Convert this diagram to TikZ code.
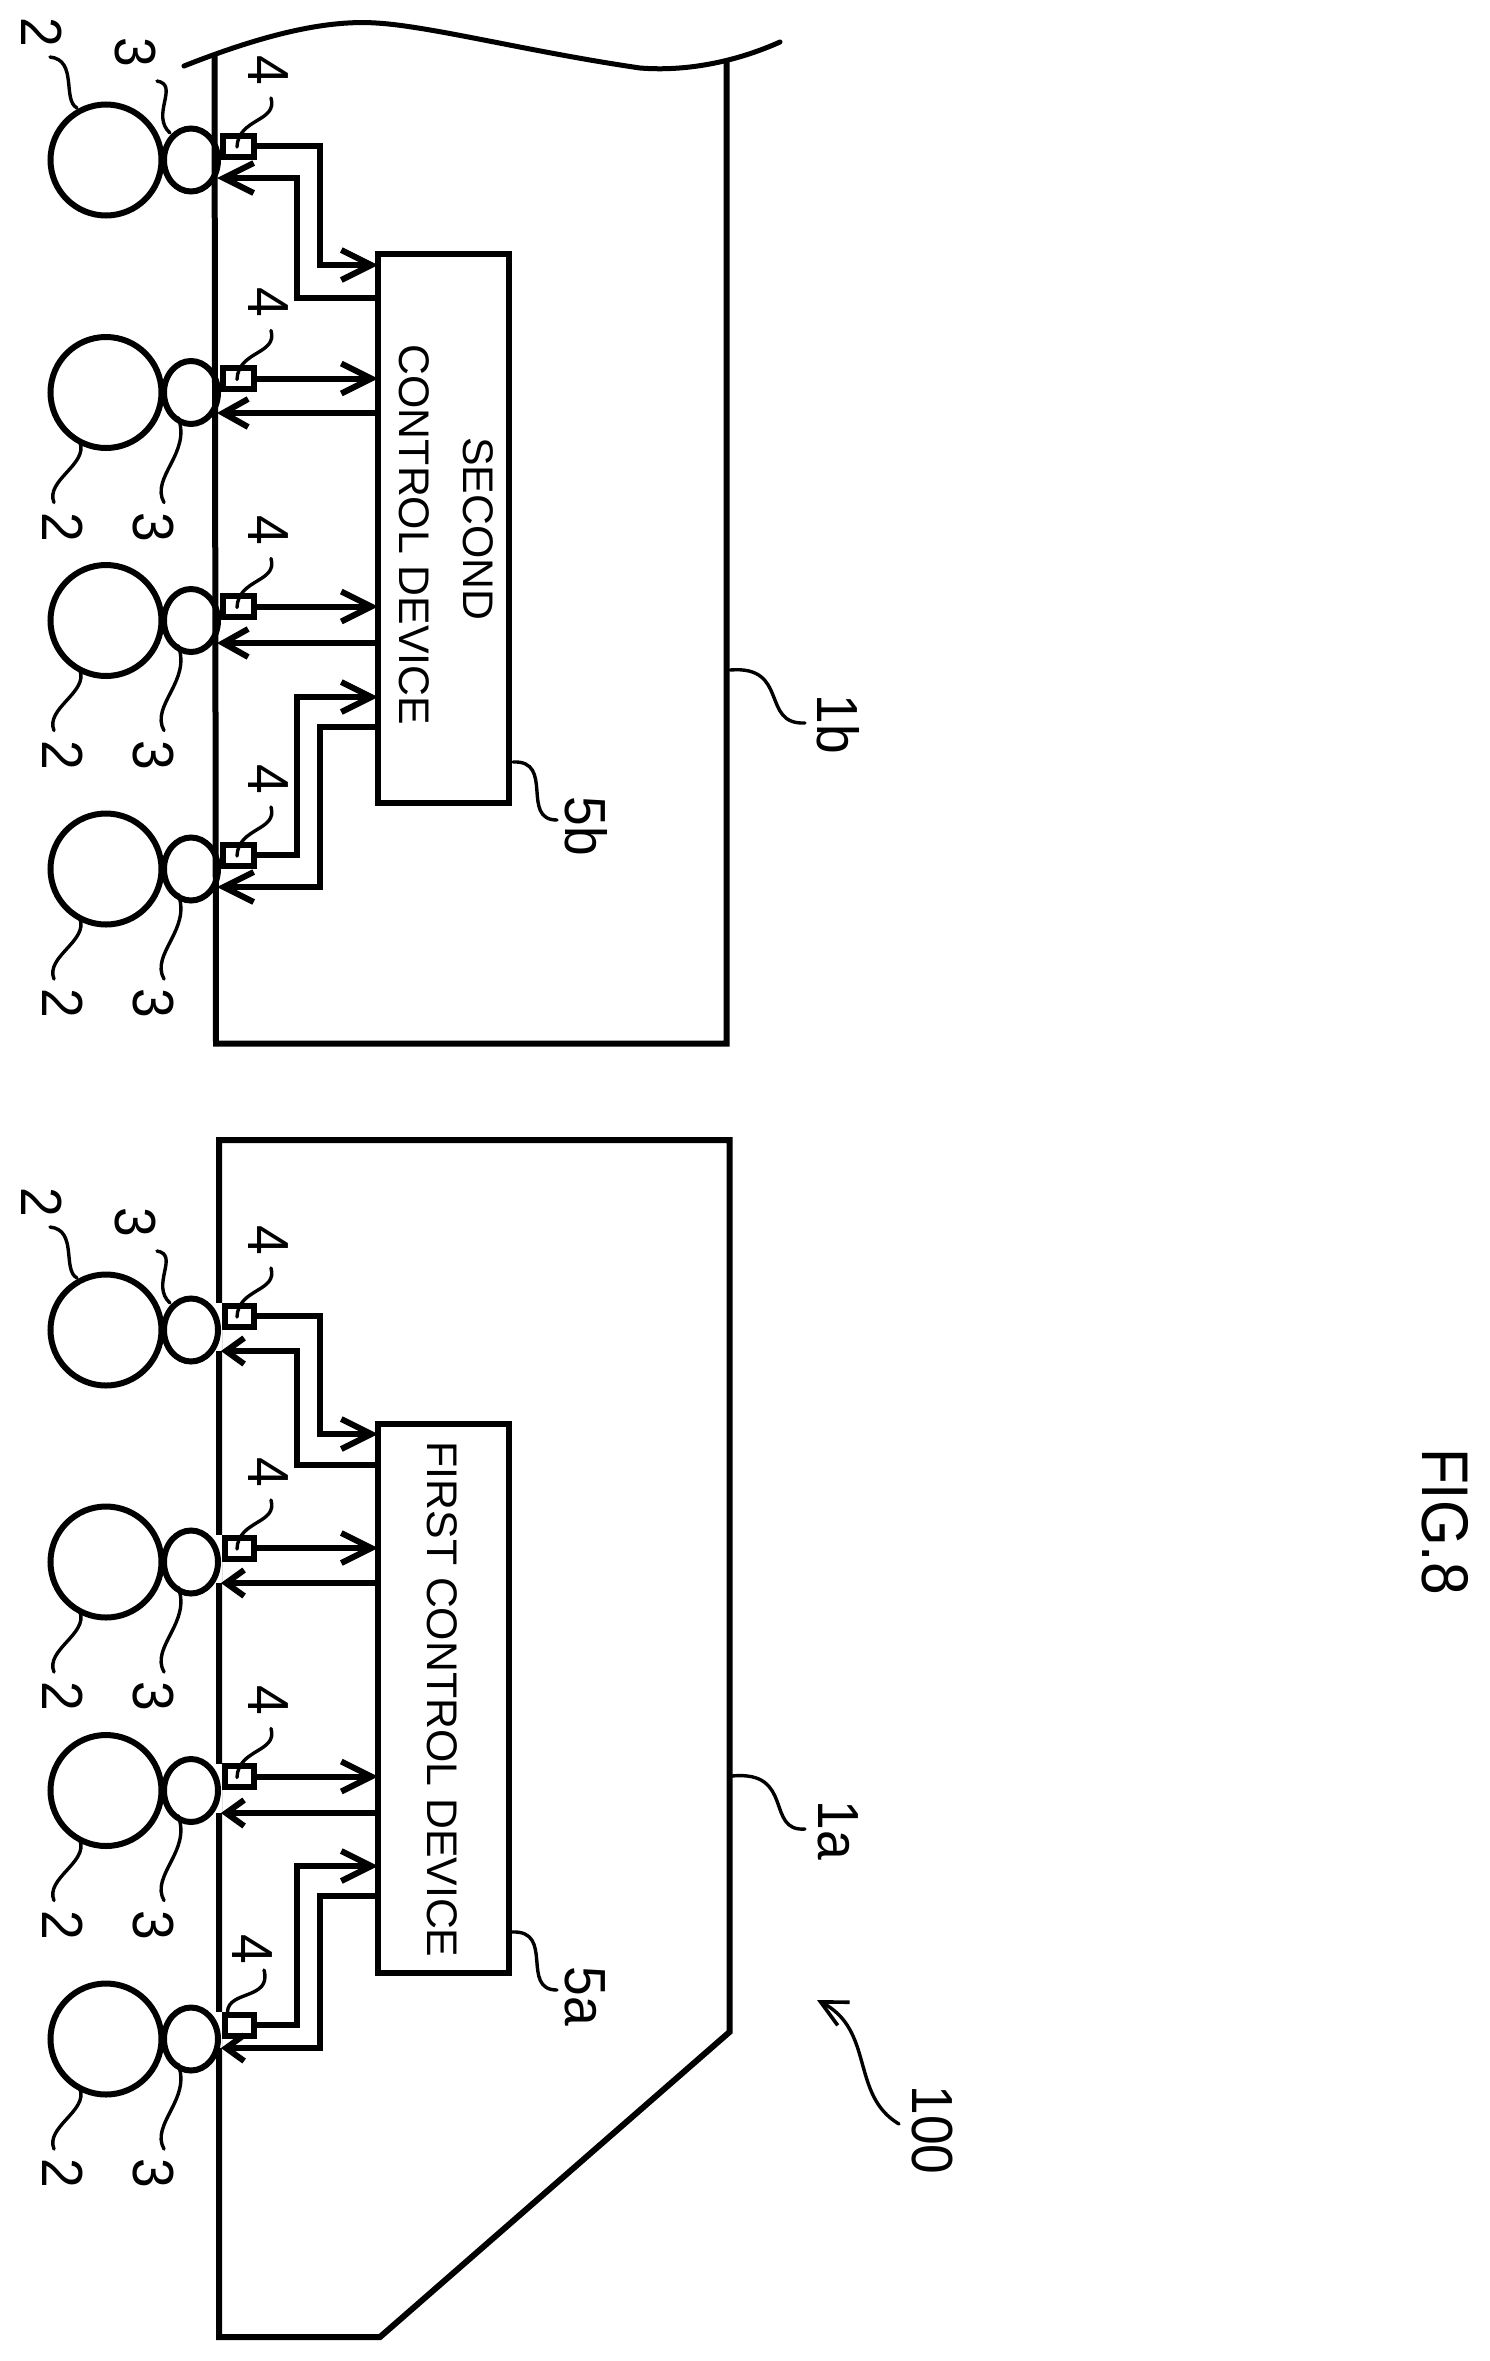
\documentclass[tikz,border=0pt]{standalone}
\usepackage{fontspec}
\setmainfont{Liberation Sans}
\usetikzlibrary{arrows.meta}
\newcommand{\labfont}{\fontsize{58}{58}\selectfont}
\newcommand{\capfont}{\fontsize{42.8}{42.8}\selectfont}
\newcommand{\figfont}{\fontsize{66}{66}\selectfont}
\tikzset{
  framing/.style={line width=6pt,line join=miter},
  wire/.style={line width=6pt},
  tipbig/.style={-{Straight Barb[length=30pt,width=30pt,line width=6pt]}},
  tipmid/.style={-{Straight Barb[length=25pt,width=28pt,line width=6pt]}},
  tipsmall/.style={-{Straight Barb[length=18pt,width=26pt,line width=6pt]}},
  bigwheel/.style={circle,draw,line width=6pt,minimum size=111pt,inner sep=0,outer sep=0},
  smallwheel/.style={ellipse,draw,line width=6pt,minimum width=54pt,minimum height=63pt,inner sep=0,outer sep=0},
  sensorbox/.style={rectangle,draw,fill=white,line width=6pt,minimum height=21pt,inner sep=0,outer sep=0},
  device/.style={rectangle,draw,fill=white,line width=6pt,minimum width=131pt,minimum height=549pt,inner sep=0,outer sep=0},
  leader/.style={line width=3.4pt,line cap=round},
  lab/.style={inner sep=0,rotate=-90,font=\labfont,xscale=.92},
  captext/.style={inner sep=0,rotate=-90,font=\capfont},
}
\usetikzlibrary{shapes.geometric}
% name, centre y, box centre x, box width, tip x, tip offset
\newcommand{\wheelrow}[6]{%
  \node[bigwheel] (#1big) at (106,#2) {};
  \node[smallwheel] (#1small) at (191,#2) {};
  \node[sensorbox,minimum width=#4pt] (#1box) at (#3,#2-14) {};
  \coordinate (#1tip) at (#5,#2+#6);
  \coordinate (#1t) at (237,#2-13);
}
\newcommand{\uplabels}[2]{%
  \node[lab] (#1l2) at (41.5,#2-127.5) {2};
  \node[lab] (#1l3) at (135.5,#2-107.5) {3};
  \coordinate (#1a) at (50,#2-103);
  \coordinate (#1b) at (77,#2-52);
  \coordinate (#1c) at (157,#2-79);
  \coordinate (#1d) at (170,#2-27);
  \draw[leader] (#1a) .. controls (78,#2-100) and (62,#2-60) .. (#1b);
  \draw[leader] (#1c) .. controls (180,#2-75) and (150,#2-45) .. (#1d);
}
\newcommand{\lowlabels}[2]{%
  \node[lab] (#1l2) at (62.5,#2+134.5) {2};
  \node[lab] (#1l3) at (153.5,#2+134.5) {3};
  \coordinate (#1a) at (80,#2+50);
  \coordinate (#1b) at (54,#2+110);
  \coordinate (#1c) at (178,#2+25);
  \coordinate (#1d) at (164,#2+110);
  \draw[leader] (#1a) .. controls (88,#2+72) and (45,#2+88) .. (#1b);
  \draw[leader] (#1c) .. controls (192,#2+60) and (150,#2+85) .. (#1d);
}
\newcommand{\fourlabel}[2]{%
  \node[lab] (#1l4) at (268.5,#2-90) {4};
  \coordinate (#1e) at (271,#2-62);
  \draw[leader] (#1e) .. controls (278,#2-38) and (238,#2-42) .. (#1t);
}
\begin{document}
\begin{tikzpicture}[x=1pt,y=-1pt]
\useasboundingbox[fill=white] (0,0) rectangle (1490,2361);

% ---------- upper body 1b
\coordinate (wa) at (184,66);
\coordinate (wb) at (780,42);
\draw[line width=5pt,line cap=round] (wa) .. controls (270,32) and (330,20) .. (376,23)
   .. controls (430,26) and (530,52) .. (640,68) .. controls (690,72) and (740,60) .. (wb);
\draw[framing] (214.5,55) -- (216,1043.5) -- (726.5,1043.5) -- (726.5,60);

% ---------- lower body 1a
\draw[framing] (219,1140) -- (729.5,1140) -- (729.5,2032) -- (380,2337) -- (219,2337) -- cycle;
\foreach \yy/\zz in {1303/1351,1535/1583,1764/1813,2012/2048}
  \fill[white] (216,\yy) rectangle (222,\zz);

% ---------- devices
\node[device] (dT) at (443.5,528.5) {};
\node[device] (dB) at (443.5,1698.5) {};
\node[captext] (tT1) at (478,529) {SECOND};
\node[captext] (tT2) at (414,535) {CONTROL DEVICE};
\node[captext] (tB) at (442.5,1699.5) {FIRST CONTROL DEVICE};

% ---------- wheel rows
\wheelrow{A}{160}{238}{31}{217}{18}
\wheelrow{B}{392.5}{238}{31}{217}{20.5}
\wheelrow{C}{620.5}{238}{31}{217}{22.5}
\wheelrow{D}{869}{238}{31}{217}{18}
\wheelrow{E}{1330}{239}{29}{221}{21}
\wheelrow{F}{1562}{239}{29}{221}{21}
\wheelrow{G}{1790.5}{239}{29}{221}{22.5}
\wheelrow{H}{2039}{239}{29}{221}{9}

\uplabels{A}{160}
\lowlabels{B}{392.5}
\lowlabels{C}{620.5}
\lowlabels{D}{869}
\uplabels{E}{1330}
\lowlabels{F}{1562}
\lowlabels{G}{1790.5}
\lowlabels{H}{2039}
\fourlabel{A}{160}
\fourlabel{B}{392.5}
\fourlabel{C}{620.5}
\fourlabel{D}{869}
\fourlabel{E}{1330}
\fourlabel{F}{1562}
\fourlabel{G}{1790.5}
\node[lab] (Hl4) at (252.5,1949) {4};
\coordinate (He) at (264,1970);
\coordinate (Hf) at (227.5,2012);
\draw[leader] (He) .. controls (272,2000) and (228,1990) .. (Hf);

% ---------- wires, upper
\coordinate (a1) at (320,265);
\coordinate (a2) at (297,298);
\draw[wire,tipbig] (Abox.east) -| (a1) -- (dT.west |- a1);
\draw[wire,tipbig] (dT.west |- a2) -- (a2) |- (Atip);
\draw[wire,tipbig] (Bbox.east) -- (dT.west |- Bbox.east);
\draw[wire,tipmid] (dT.west |- Btip) -- (Btip);
\draw[wire,tipbig] (Cbox.east) -- (dT.west |- Cbox.east);
\draw[wire,tipmid] (dT.west |- Ctip) -- (Ctip);
\coordinate (a3) at (297,697);
\coordinate (a4) at (320,727);
\draw[wire,tipbig] (Dbox.east) -| (a3) -- (dT.west |- a3);
\draw[wire,tipbig] (dT.west |- a4) -- (a4) |- (Dtip);

% ---------- wires, lower
\coordinate (b1) at (320,1434);
\coordinate (b2) at (297,1465);
\draw[wire,tipbig] (Ebox.east) -| (b1) -- (dB.west |- b1);
\draw[wire,tipsmall] (dB.west |- b2) -- (b2) |- (Etip);
\draw[wire,tipbig] (Fbox.east) -- (dB.west |- Fbox.east);
\draw[wire,tipsmall] (dB.west |- Ftip) -- (Ftip);
\draw[wire,tipbig] (Gbox.east) -- (dB.west |- Gbox.east);
\draw[wire,tipsmall] (dB.west |- Gtip) -- (Gtip);
\coordinate (b3) at (297,1866);
\coordinate (b4) at (320,1896);
\draw[wire,tipbig] (Hbox.east) -| (b3) -- (dB.west |- b3);
\draw[wire,tipsmall] (dB.west |- b4) -- (b4) |- (Htip);

% ---------- body and device labels
\node[lab] (l1b) at (838,724) {1b};
\coordinate (c1) at (730,670);
\coordinate (c2) at (805,723);
\draw[leader] (c1) .. controls (790,665) and (760,725) .. (c2);
\node[lab] (l1a) at (838,1830) {1a};
\coordinate (c3) at (732,1776);
\coordinate (c4) at (805,1829);
\draw[leader] (c3) .. controls (795,1770) and (765,1832) .. (c4);
\node[lab] (l5b) at (586,826) {5b};
\coordinate (c5) at (513,762);
\coordinate (c6) at (557,820);
\draw[leader] (c5) .. controls (555,760) and (520,820) .. (c6);
\node[lab] (l5a) at (585.5,1996) {5a};
\coordinate (c7) at (512,1932);
\coordinate (c8) at (557,1990);
\draw[leader] (c7) .. controls (555,1930) and (520,1990) .. (c8);

% ---------- 100
\node[lab] (l100) at (932,2130) {100};
\coordinate (e1) at (899,2124);
\coordinate (e2) at (817,2000);
\draw[leader,-{Straight Barb[length=26pt,width=26pt,line width=3.6pt]}] (e1) .. controls (850,2095) and (875,2030) .. (e2);

% ---------- figure label
\node[inner sep=0,rotate=-90,font=\figfont,xscale=.89] (fig) at (1445,1521.5) {FIG.8};
\end{tikzpicture}
\end{document}
